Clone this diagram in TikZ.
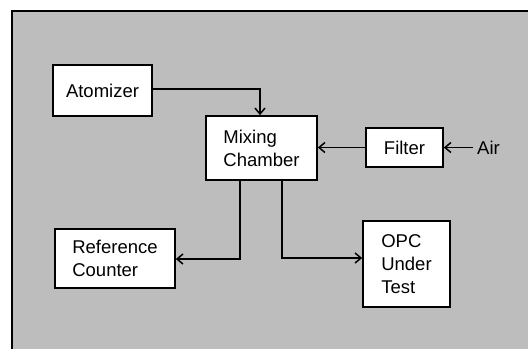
\documentclass[tikz,border=0pt]{standalone}
\usepackage{fontspec}
\setmainfont{Liberation Sans}
\usetikzlibrary{arrows.meta}
\definecolor{panelgray}{HTML}{BDBDBD}
\tikzset{
  lbl/.style={font=\fontsize{18.5}{23}\selectfont},
  blk/.style={draw=black, line width=1.6pt, fill=white, inner sep=0pt, align=left, lbl},
  conn/.style={draw=black, line width=1.5pt},
  arr/.style={conn, -{Straight Barb[length=6pt,width=10pt,line width=1.5pt]}},
}
\begin{document}
\begin{tikzpicture}[x=1pt,y=-1pt]
\useasboundingbox (0,0) rectangle (528,349);
\fill[white] (0,0) rectangle (528,349);
\fill[panelgray] (12,11) rectangle (528,349);
\draw[line width=2pt] (12,349) -- (12,11) -- (528,11);
% boxes
\node[blk, minimum width=99pt, minimum height=51pt] (atom) at (102.5,90.5) {Atomizer};
\node[blk, minimum width=111pt, minimum height=64pt] (mix) at (261.5,148) {Mixing\\Chamber};
\node[blk, minimum width=77pt, minimum height=39pt] (filt) at (404.5,147.5) {Filter};
\node[blk, minimum width=120pt, minimum height=59pt] (ref) at (115,258.5) {Reference\\Counter};
\node[blk, minimum width=87pt, minimum height=86pt] (opc) at (406.5,264) {OPC\\Under\\Test};
\node[lbl, inner sep=0pt, anchor=west] (air) at (477,147.5) {Air};
% connectors
\coordinate (ac) at (260,89);
\path (air.west) ++(-4,0) coordinate (airs);
\draw[arr] (atom.east |- ac) -- (ac) -- (ac |- mix.north);
\draw[arr] (airs) -- (filt.east);
\draw[arr] (filt.west) -- (mix.east |- filt.west);
\coordinate (l1) at (240,259);
\coordinate (l2) at (282,258);
\draw[arr] (l1 |- mix.south) -- (l1) -- (ref.east |- l1);
\draw[arr] (l2 |- mix.south) -- (l2) -- (opc.west |- l2);
\end{tikzpicture}
\end{document}
